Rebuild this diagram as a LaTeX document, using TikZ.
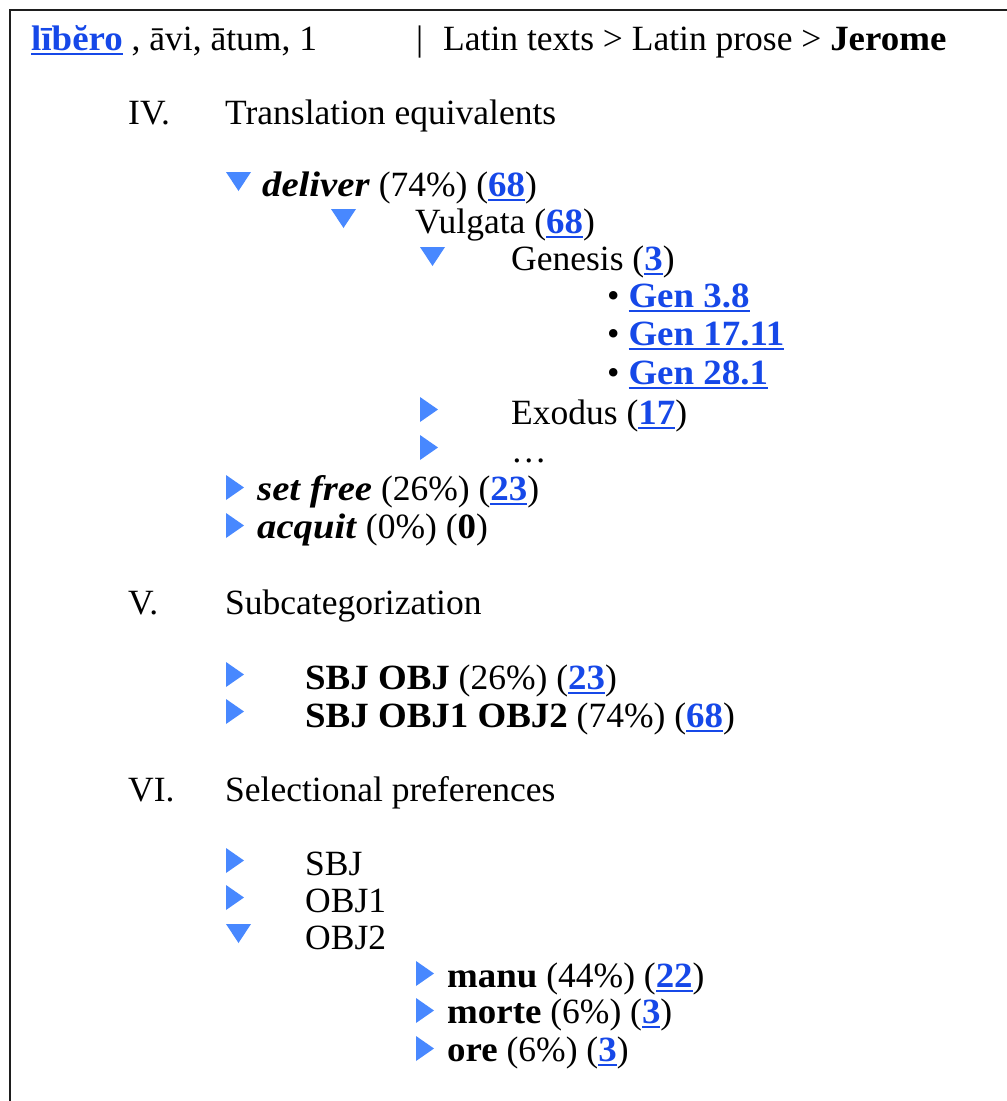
\documentclass[tikz,border=0pt]{standalone}
\usepackage{fontspec}
\setmainfont{Liberation Serif}[
    BoldFeatures = {FakeStretch = 1.04},
    BoldItalicFeatures = {FakeStretch = 1.09}]
\definecolor{linkblue}{RGB}{22,72,232}
\definecolor{triblue}{RGB}{72,136,255}
\definecolor{framegray}{RGB}{30,30,30}
\newcommand\lnk[1]{{\color{linkblue}\bfseries\setbox0\hbox{#1}\rlap{\rule[-4.5pt]{\wd0}{2pt}}\box0}}
\tikzset{
    txt/.style = {anchor = base west, inner sep = 0pt, font = \fontsize{35.5}{42}\selectfont},
    tri/.style = {fill = triblue},
    tridown/.pic = {\fill[tri] (0, 0) -- (25, 0) -- (12.5, 19) -- cycle;},
    triright/.pic = {\fill[tri] (0, 0) -- (18, 12.5) -- (0, 25) -- cycle;}
}
\begin{document}
\begin{tikzpicture}[x = 1pt, y = -1pt]
        \useasboundingbox (0, 0) rectangle (1007, 1101);
        \draw[framegray, line width = 2.5pt] (10, 1101) -- (10, 10) -- (1007, 10);

        \node[txt] (hdlemma) at (31, 50) {\lnk{lībĕro} , āvi, ātum, 1};
        \node[txt] (hdbar) at (416, 50) {|};
        \node[txt] (hdpath) at (443, 50) {Latin texts > Latin prose > \textbf{Jerome}};

        \node[txt] (secIV) at (128, 124) {IV.};
        \node[txt] (secIVt) at (225, 124) {Translation equivalents};

        \pic at (226, 172) {tridown};
        \node[txt] (deliver) at (262, 196) {\textbf{\textit{deliver}} (74\%) (\lnk{68})};
        \pic at (331, 209) {tridown};
        \node[txt] (vulgata) at (415, 233) {Vulgata (\lnk{68})};
        \pic at (420, 247) {tridown};
        \node[txt] (genesis) at (511, 270) {Genesis (\lnk{3})};
        \node[txt] (gen38) at (607, 307) {\textbullet\ \lnk{Gen 3.8}};
        \node[txt] (gen1711) at (607, 345) {\textbullet\ \lnk{Gen 17.11}};
        \node[txt] (gen281) at (607, 384) {\textbullet\ \lnk{Gen 28.1}};
        \pic at (420, 397) {triright};
        \node[txt] (exodus) at (511, 424) {Exodus (\lnk{17})};
        \pic at (420, 435) {triright};
        \node[txt] (more) at (511, 462) {…};
        \pic at (226, 475) {triright};
        \node[txt] (setfree) at (257, 500) {\textbf{\textit{set free}} (26\%) (\lnk{23})};
        \pic at (226, 513) {triright};
        \node[txt] (acquit) at (257, 538) {\textbf{\textit{acquit}} (0\%) (\textbf{0})};

        \node[txt] (secV) at (128, 614) {V.};
        \node[txt] (secVt) at (225, 614) {Subcategorization};

        \pic at (226, 662) {triright};
        \node[txt] (sbjobj) at (305, 689) {\textbf{SBJ OBJ} (26\%) (\lnk{23})};
        \pic at (226, 699) {triright};
        \node[txt] (sbjobjs) at (305, 727) {\textbf{SBJ OBJ1 OBJ2} (74\%) (\lnk{68})};

        \node[txt] (secVI) at (128, 801) {VI.};
        \node[txt] (secVIt) at (225, 801) {Selectional preferences};

        \pic at (226, 848) {triright};
        \node[txt] (sbj) at (305, 875) {SBJ};
        \pic at (226, 885) {triright};
        \node[txt] (objone) at (305, 912) {OBJ1};
        \pic at (226, 924) {tridown};
        \node[txt] (objtwo) at (305, 949) {OBJ2};
        \pic at (416, 961) {triright};
        \node[txt] (manu) at (447, 987) {\textbf{manu} (44\%) (\lnk{22})};
        \pic at (416, 998) {triright};
        \node[txt] (morte) at (447, 1023) {\textbf{morte} (6\%) (\lnk{3})};
        \pic at (416, 1036) {triright};
        \node[txt] (ore) at (447, 1061) {\textbf{ore} (6\%) (\lnk{3})};

    \end{tikzpicture}
\end{document}
